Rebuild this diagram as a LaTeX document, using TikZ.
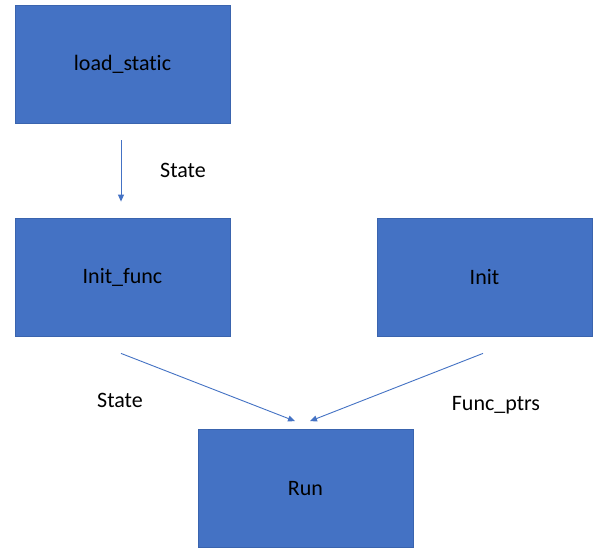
\documentclass[tikz,border=0pt]{standalone}
\usepackage{fontspec}
\setmainfont[Ligatures=NoCommon]{Carlito}
\usetikzlibrary{arrows.meta,calc}
\definecolor{boxblue}{HTML}{4472C4}
\definecolor{boxedge}{HTML}{3A64AE}
\tikzset{
  x=1pt,y=-1pt,
  procbox/.style={draw=boxedge,line width=0.8pt,fill=boxblue,minimum width=215pt,minimum height=118pt,inner sep=0pt,font=\fontsize{22}{26}\selectfont,text=black},
  conn/.style={draw=boxblue,line width=0.9pt,-{Triangle[length=7pt,width=6pt]}},
  lbl/.style={font=\fontsize{22}{26}\selectfont,text=black,inner sep=0pt}
}
\begin{document}
\begin{tikzpicture}
\useasboundingbox[fill=white] (0,0) rectangle (594,548);
\node[procbox] (load) at (122.5,64) {load\_static};
\node[procbox] (initf) at (122.5,277) {Init\_func};
\node[procbox] (init) at (484.5,277) {Init};
\node[procbox] (run) at (305.5,488.5) {Run};
\coordinate (a1s) at ($(load.south)+(-1.5,17)$);
\coordinate (a1e) at ($(initf.north)+(-1.5,-16)$);
\coordinate (a2s) at ($(initf.south)+(-1.5,17)$);
\coordinate (a2e) at ($(run.north)+(-10.5,-8)$);
\coordinate (a3s) at ($(init.south)+(-1.5,17)$);
\coordinate (a3e) at ($(run.north)+(4.5,-8)$);
\draw[conn] (a1s) -- (a1e);
\draw[conn] (a2s) -- (a2e);
\draw[conn] (a3s) -- (a3e);
\node[lbl] (l1) at (183,170) {State};
\node[lbl] (l2) at (120,400) {State};
\node[lbl] (l3) at (496,405) {Func\_ptrs};
\end{tikzpicture}
\end{document}
